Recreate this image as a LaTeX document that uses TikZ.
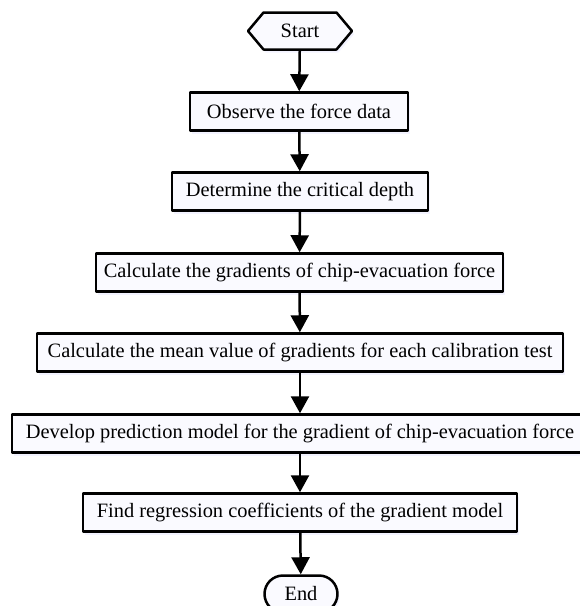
\documentclass[tikz,border=0pt]{standalone}
\usepackage{fontspec}
\setmainfont{Liberation Serif}
\usetikzlibrary{arrows.meta,shapes.symbols,shapes.misc,shadows}
\begin{document}
\begin{tikzpicture}[x=1pt,y=-1pt,line join=round,font=\fontsize{20.4}{23}\selectfont,
	>={Triangle[length=17pt,width=18pt]},
	stepbox/.style={draw,line width=2.5pt,fill=blue!2,minimum height=38pt,inner sep=0pt,
		drop shadow={opacity=0.12,fill=blue!40,shadow xshift=2pt,shadow yshift=-3pt}},
	flow/.style={->,line width=2.5pt}]
	\useasboundingbox (0,0) rectangle (580,606);
	\node[stepbox,signal,signal to=west and east,signal pointer angle=100,minimum width=104pt,minimum height=37pt] (start) at (300,31) {Start};
	\node[stepbox,minimum width=218pt] (obs) at (299,111.5) {Observe the force data};
	\node[stepbox,minimum width=256pt] (det) at (300,191.5) {Determine the critical depth};
	\node[stepbox,minimum width=407pt] (grad) at (299.5,272.5) {Calculate the gradients of chip-evacuation force};
	\node[stepbox,minimum width=526pt] (mean) at (300,352.5) {Calculate the mean value of gradients for each calibration test};
	\node[stepbox,minimum width=576pt] (model) at (300,433.5) {Develop prediction model for the gradient of chip-evacuation force};
	\node[stepbox,minimum width=434pt] (coef) at (300,512.5) {Find regression coefficients of the gradient model};
	\node[stepbox,rounded rectangle,minimum width=73pt,minimum height=37pt] (end) at (301,594) {End};
	% arrows
	\draw[flow] (start)--(obs);
	\draw[flow] (obs)--(det);
	\draw[flow] (det)--(grad);
	\draw[flow] (grad)--(mean);
	\draw[flow] (mean)--(model);
	\draw[flow] (model)--(coef);
	\draw[flow] (coef)--(end);
\end{tikzpicture}
\end{document}
